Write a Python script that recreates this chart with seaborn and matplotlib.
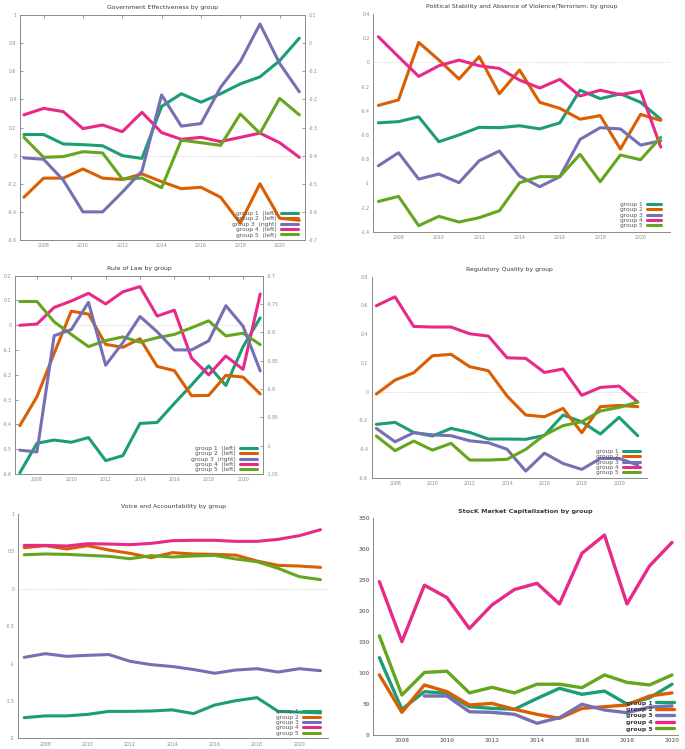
import numpy as np
import pandas as pd
import matplotlib
matplotlib.use("Agg")
import matplotlib.pyplot as plt
import seaborn as sns

# ---- data ----
years = list(range(2007, 2022))
stock_years = list(range(2007, 2021))
groups = ["group 1", "group 2", "group 3", "group 4", "group 5"]

gov_g1 = [0.15, 0.15, 0.083, 0.078, 0.07, 0.0, -0.02, 0.35, 0.44, 0.38, 0.44, 0.51, 0.56, 0.675, 0.835]
gov_g2 = [-0.296, -0.16, -0.16, -0.095, -0.16, -0.17, -0.13, -0.185, -0.235, -0.225, -0.296, -0.48, -0.2, -0.445, -0.46]
gov_g3 = [-0.408, -0.413, -0.487, -0.60, -0.60, -0.53, -0.455, -0.184, -0.295, -0.286, -0.157, -0.066, 0.068, -0.072, -0.173]
gov_g4 = [0.29, 0.336, 0.313, 0.192, 0.218, 0.17, 0.308, 0.164, 0.116, 0.13, 0.1, 0.13, 0.16, 0.092, -0.012]
gov_g5 = [0.13, -0.012, -0.007, 0.028, 0.019, -0.166, -0.16, -0.228, 0.11, 0.092, 0.073, 0.296, 0.159, 0.407, 0.29]

pol_g1 = [-0.5, -0.49, -0.45, -0.656, -0.60, -0.537, -0.54, -0.524, -0.55, -0.5, -0.23, -0.30, -0.26, -0.33, -0.47]
pol_g2 = [-0.356, -0.31, 0.165, 0.02, -0.138, 0.047, -0.26, -0.063, -0.33, -0.38, -0.47, -0.44, -0.717, -0.43, -0.48]
pol_g3 = [-0.855, -0.747, -0.965, -0.923, -0.995, -0.813, -0.733, -0.94, -1.028, -0.945, -0.637, -0.54, -0.55, -0.684, -0.648]
pol_g4 = [0.212, 0.047, -0.116, -0.028, 0.019, -0.028, -0.05, -0.146, -0.212, -0.14, -0.278, -0.23, -0.267, -0.237, -0.7]
pol_g5 = [-1.15, -1.108, -1.35, -1.273, -1.32, -1.284, -1.227, -0.995, -0.945, -0.945, -0.76, -0.987, -0.766, -0.805, -0.62]

law_g1 = [-0.595, -0.476, -0.463, -0.472, -0.453, -0.546, -0.526, -0.396, -0.392, -0.315, -0.241, -0.164, -0.243, -0.087, 0.03]
law_g2 = [-0.405, -0.288, -0.113, 0.057, 0.045, -0.077, -0.089, -0.054, -0.166, -0.183, -0.284, -0.283, -0.202, -0.209, -0.277]
law_g3 = [-1.008, -1.011, -0.806, -0.795, -0.747, -0.858, -0.818, -0.772, -0.799, -0.831, -0.831, -0.815, -0.753, -0.789, -0.868]
law_g4 = [0.0, 0.005, 0.072, 0.098, 0.129, 0.086, 0.135, 0.156, 0.037, 0.061, -0.132, -0.2, -0.124, -0.178, 0.126]
law_g5 = [0.096, 0.096, 0.014, -0.037, -0.086, -0.062, -0.047, -0.068, -0.05, -0.037, -0.01, 0.018, -0.043, -0.032, -0.078]

reg_g1 = [-0.227, -0.213, -0.283, -0.308, -0.255, -0.283, -0.329, -0.329, -0.331, -0.304, -0.162, -0.209, -0.294, -0.178, -0.306]
reg_g2 = [-0.016, 0.081, 0.132, 0.25, 0.26, 0.174, 0.146, -0.03, -0.162, -0.174, -0.116, -0.285, -0.104, -0.095, -0.104]
reg_g3 = [-0.255, -0.348, -0.285, -0.3, -0.306, -0.341, -0.355, -0.4, -0.552, -0.427, -0.499, -0.54, -0.464, -0.464, -0.51]
reg_g4 = [0.598, 0.66, 0.454, 0.45, 0.45, 0.403, 0.387, 0.236, 0.232, 0.134, 0.158, -0.025, 0.03, 0.039, -0.072]
reg_g5 = [-0.308, -0.41, -0.343, -0.406, -0.359, -0.475, -0.475, -0.47, -0.401, -0.301, -0.236, -0.209, -0.134, -0.109, -0.072]

voice_g1 = [-1.724, -1.70, -1.70, -1.68, -1.64, -1.64, -1.635, -1.62, -1.67, -1.555, -1.497, -1.456, -1.64, -1.65, -1.66]
voice_g2 = [0.55, 0.576, 0.532, 0.576, 0.518, 0.474, 0.416, 0.483, 0.465, 0.46, 0.45, 0.371, 0.313, 0.304, 0.286]
voice_g3 = [-0.917, -0.868, -0.904, -0.89, -0.88, -0.97, -1.015, -1.04, -1.08, -1.13, -1.087, -1.069, -1.114, -1.069, -1.096]
voice_g4 = [0.58, 0.58, 0.572, 0.603, 0.598, 0.59, 0.607, 0.643, 0.648, 0.648, 0.634, 0.634, 0.661, 0.71, 0.79]
voice_g5 = [0.455, 0.465, 0.46, 0.447, 0.434, 0.402, 0.443, 0.425, 0.438, 0.447, 0.398, 0.362, 0.273, 0.162, 0.122]

stock_g1 = [125, 41.5, 70, 67.3, 45.7, 43, 41.5, 59, 75.4, 65.7, 71, 50, 60, 82]
stock_g2 = [97, 36.6, 80.8, 70, 48.5, 51, 41.5, 33.4, 27, 43, 45.7, 48.5, 63, 68]
stock_g3 = [np.nan, np.nan, 63, 63, 37.6, 36.6, 33.4, 18.9, 28, 49.6, 40.4, 36, 45, 47]
stock_g4 = [247.7, 150.8, 242, 222, 172, 210, 235, 245, 211.6, 293.5, 323, 211.6, 273, 311]
stock_g5 = [160, 64.6, 101, 103, 68, 77, 68, 82, 82, 76.4, 97, 85, 80.8, 97]

# ---- layout helpers (pixel coords of the 685x749 canvas) ----
W, H = 685, 749
sns.set_style("white")
palette = sns.color_palette("Dark2", 5)
TICK_C = "#8a8a8a"
SPINE_C = "#8a8a8a"
TEXT_C = "#3a3a3a"

fig = plt.figure(figsize=(W / 100, H / 100), dpi=100)


def add_panel(l, r, t, b):
    return fig.add_axes([l / W, 1 - b / H, (r - l) / W, (b - t) / H])


def fmt(v):
    s = f"{v:.2f}".rstrip("0").rstrip(".")
    return "0" if s in ("-0", "0") else s


def style_axis(ax, yticks, box=False, bold=False, tsize=3.3):
    weight = "bold" if bold else "normal"
    ax.set_yticks(yticks)
    ax.set_yticklabels([fmt(v) for v in yticks], fontsize=tsize, color=TICK_C, fontweight=weight)
    for lab in ax.get_xticklabels():
        lab.set_fontsize(tsize)
        lab.set_color(TICK_C)
        lab.set_fontweight(weight)
    ax.tick_params(direction="in", length=2.5, width=0.6, color=SPINE_C, pad=2.5,
                   top=box, right=False)
    for side in ["left", "bottom"]:
        ax.spines[side].set_color(SPINE_C)
        ax.spines[side].set_linewidth(0.7)
    for side in ["top", "right"]:
        ax.spines[side].set_visible(box)
        ax.spines[side].set_color(SPINE_C)
        ax.spines[side].set_linewidth(0.7)
    ax.set_xlabel("")
    ax.set_ylabel("")


def draw_panel(rect, x, series, title, xlim, ylim, yticks, leg_corner,
               right=None, box=False, bold=False, lw=2.2, leg_fs=4.2,
               leg_ls=0.05, leg_hl=2.9, leg_pad=0.8, tsize=3.3, title_fs=4.4):
    ax = add_panel(*rect)
    ax2 = None
    if right is not None:
        ax2 = ax.twinx()
    handles, labels = [], []
    for i, (name, vals) in enumerate(zip(groups, series)):
        on_right = right is not None and i == right[0]
        target = ax2 if on_right else ax
        sns.lineplot(x=x, y=vals, ax=target, color=palette[i], lw=lw, legend=False)
        handles.append(target.get_lines()[-1])
        if right is None:
            labels.append(name)
        else:
            labels.append(f"{name}  ({'right' if on_right else 'left'})")
    if ylim[0] < 0 < ylim[1]:
        ax.axhline(0, color="#c8c8c8", ls=(0, (1, 1.5)), lw=0.6, zorder=0)
    ax.set_xlim(*xlim)
    ax.set_ylim(*ylim)
    ax.set_xticks(list(range(2008, 2021, 2)))
    ax.set_xticklabels([str(v) for v in range(2008, 2021, 2)])
    style_axis(ax, yticks, box=box, bold=bold, tsize=tsize)
    if ax2 is not None:
        ax2.set_ylim(*right[1])
        ax2.set_yticks(right[2])
        ax2.set_yticklabels([fmt(v) for v in right[2]], fontsize=tsize, color=TICK_C)
        ax2.tick_params(direction="in", length=2.5, width=0.6, color=SPINE_C, pad=2.5)
        for side in ax2.spines:
            ax2.spines[side].set_visible(False)
        ax2.set_ylabel("")
    ax.set_title(title, fontsize=title_fs, color=TEXT_C, pad=4,
                 fontweight="bold" if bold else "normal")
    top_ax = ax2 if ax2 is not None else ax
    leg = top_ax.legend(handles, labels, loc="lower right",
                        bbox_to_anchor=(leg_corner[0] / W, 1 - leg_corner[1] / H),
                        bbox_transform=fig.transFigure, frameon=False, markerfirst=False,
                        fontsize=leg_fs, labelspacing=leg_ls, handlelength=leg_hl,
                        handletextpad=leg_pad, borderpad=0, borderaxespad=0,
                        prop={"size": leg_fs, "weight": "bold" if bold else "normal"})
    for t in leg.get_texts():
        t.set_color("#555555" if not bold else TEXT_C)
    for h in leg.legend_handles:
        h.set_linewidth(lw)
    return ax


draw_panel((20, 305, 15, 240), years, [gov_g1, gov_g2, gov_g3, gov_g4, gov_g5],
           "Government Effectiveness by group", (2006.8, 2021.29), (-0.6, 1.0),
           np.round(np.arange(-0.6, 1.01, 0.2), 2), (298.3, 237.5),
           right=(2, (-0.7, 0.1), np.round(np.arange(-0.7, 0.11, 0.1), 2)), box=True)

draw_panel((373.3, 670, 14, 231.7), years, [pol_g1, pol_g2, pol_g3, pol_g4, pol_g5],
           "Political Stability and Absence of Violence/Terrorism: by group",
           (2006.75, 2021.46), (-1.4, 0.4), np.round(np.arange(-1.4, 0.41, 0.2), 2),
           (661, 228.5), leg_hl=2.4)

draw_panel((15, 263.3, 275.7, 474), years, [law_g1, law_g2, law_g3, law_g4, law_g5],
           "Rule of Law by group", (2006.72, 2021.18), (-0.6, 0.2),
           np.round(np.arange(-0.6, 0.21, 0.1), 2), (257.3, 472.5),
           right=(2, (-1.05, -0.7), np.round(np.arange(-1.05, -0.69, 0.05), 2)), box=True)

draw_panel((371.7, 646.7, 276.7, 478), years, [reg_g1, reg_g2, reg_g3, reg_g4, reg_g5],
           "Regulatory Quality by group", (2006.75, 2021.48), (-0.6, 0.8),
           np.round(np.arange(-0.6, 0.81, 0.2), 2), (640, 475.5))

draw_panel((18.3, 328.3, 514, 738.3), years, [voice_g1, voice_g2, voice_g3, voice_g4, voice_g5],
           "Voice and Accountability by group", (2006.72, 2021.37), (-2.0, 1.0),
           np.round(np.arange(-2.0, 1.01, 0.5), 2), (320, 735.8))

draw_panel((373.3, 678.3, 518.3, 735), stock_years, [stock_g1, stock_g2, stock_g3, stock_g4, stock_g5],
           "StocK Market Capitalization by group", (2006.73, 2020.28), (0, 350),
           list(range(0, 351, 50)), (674, 731.5), bold=True, lw=2.4, leg_fs=4.4,
           leg_hl=3.0, leg_pad=0.55, tsize=4.0, title_fs=4.6, leg_ls=0.2)

fig.savefig("out.png", dpi=100)
